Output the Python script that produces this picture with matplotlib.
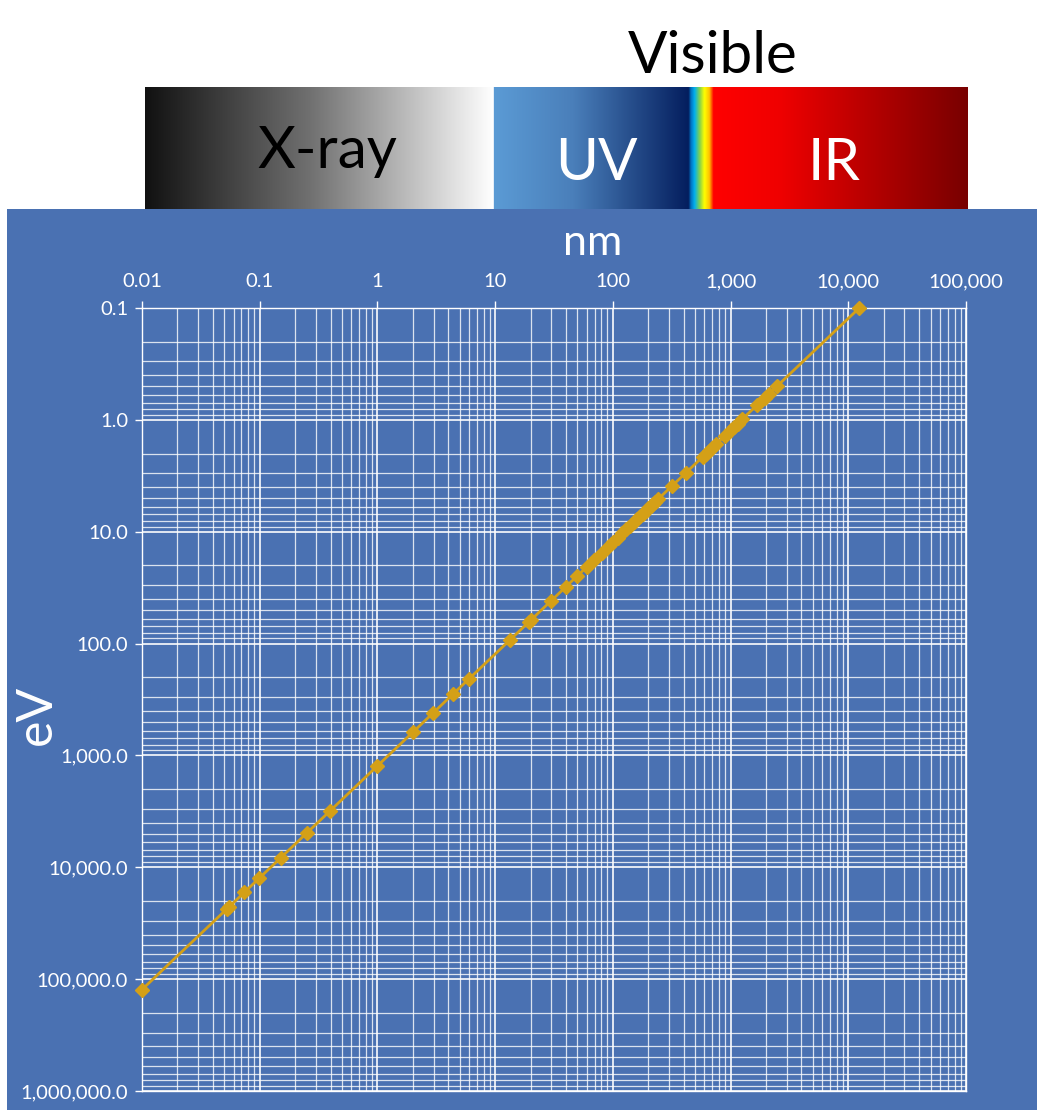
##  Wavelength (nm) vs photon energy (eV) with spectrum bar

import numpy as np
import matplotlib.pyplot as plt
from matplotlib.colors import LinearSegmentedColormap
from matplotlib.ticker import LogLocator, FixedLocator, NullFormatter
from matplotlib.patches import Rectangle

plt.rcParams['font.family'] = ['Lato', 'DejaVu Sans']

# wavelength in nm and photon energy in eV
nm = [0.01, 0.0525, 0.0552, 0.074, 0.0993, 0.151, 0.25, 0.395, 1.0,
      2.02, 2.98, 4.36, 6.04, 13.4, 19.5, 20.2, 29.7, 40, 49.3, 60, 69.6, 80.5,
      92, 100, 110, 120, 130, 140, 150, 160, 170, 180, 190, 200, 210, 220, 230, 244,
      316, 419, 580, 620, 660, 700, 750, 898, 1000, 1064, 1150, 1250,
      1670, 1960, 2100, 2470, 12398]
ev = [123984, 23616, 22461, 16755, 12486, 8211, 4959, 3139, 1239.8,
      613.8, 416.1, 284.4, 205.3, 92.5, 63.6, 61.4, 41.7, 31.0, 25.1, 20.7, 17.8, 15.4,
      13.5, 12.4, 11.27, 10.33, 9.54, 8.86, 8.27, 7.75, 7.29, 6.89, 6.53, 6.20, 5.90, 5.64, 5.39, 5.08,
      3.92, 2.96, 2.14, 2.00, 1.88, 1.77, 1.65, 1.38, 1.24, 1.165, 1.078, 0.992,
      0.742, 0.633, 0.590, 0.502, 0.100]

x_ticks = [0.01, 0.1, 1, 10, 100, 1000, 10000, 100000]
x_labels = ['0.01', '0.1', '1', '10', '100', '1,000', '10,000', '100,000']
y_ticks = [0.1, 1, 10, 100, 1000, 10000, 100000, 1000000]
y_labels = ['0.1', '1.0', '10.0', '100.0', '1,000.0', '10,000.0', '100,000.0', '1,000,000.0']

band_names = ['X-ray', 'UV', 'IR']

blue = '#4a71b2'
gold = '#d4a017'
W, H = 1037, 1110


def plot():
    fig = plt.figure(figsize=(W / 100, H / 100), dpi=100)
    fig.patches.append(Rectangle((7 / W, 0), 1 - 7 / W, 1 - 209 / H,
                                 transform=fig.transFigure, facecolor=blue,
                                 edgecolor='none', zorder=-10))

    # spectrum bar
    stops = [(0.0, '#111111'), (0.20, '#707070'), (0.4233, '#ffffff'),
             (0.4240, '#5b9bd5'), (0.52, '#4a7fba'), (0.6606, '#041e5e'),
             (0.6635, '#0070c0'), (0.6680, '#00b0f0'), (0.6740, '#7fd050'),
             (0.6800, '#ffff00'), (0.6860, '#ffc000'), (0.6910, '#ff0000'),
             (0.77, '#f00000'), (1.0, '#780000')]
    cmap = LinearSegmentedColormap.from_list('spec', stops, N=1024)
    bar = fig.add_axes([145 / W, 1 - 209 / H, 822 / W, 122 / H])
    bar.imshow(np.linspace(0, 1, 1024)[None, :], aspect='auto', cmap=cmap,
               extent=[0, 1, 0, 1])
    bar.set_axis_off()

    fig.text(713 / W, 1 - 73 / H, 'Visible', fontsize=42, color='black',
             ha='center', va='baseline')
    fig.text(327 / W, 1 - 168 / H, band_names[0], fontsize=42, color='black',
             ha='center', va='baseline')
    fig.text(596 / W, 1 - 180 / H, band_names[1], fontsize=42, color='white',
             ha='center', va='baseline')
    fig.text(834 / W, 1 - 180 / H, band_names[2], fontsize=42, color='white',
             ha='center', va='baseline')

    # main chart
    axes = fig.add_axes([142 / W, 1 - 1091 / H, 824 / W, 783 / H])
    axes.set_facecolor(blue)
    axes.set_xscale('log')
    axes.set_yscale('log')
    axes.set_xlim(0.01, 100000)
    axes.set_ylim(1000000, 0.1)

    axes.xaxis.set_major_locator(FixedLocator(x_ticks))
    axes.yaxis.set_major_locator(FixedLocator(y_ticks))
    axes.set_xticklabels(x_labels)
    axes.set_yticklabels(y_labels)
    axes.xaxis.set_minor_locator(LogLocator(base=10, subs=np.arange(2, 10), numticks=20))
    axes.yaxis.set_minor_locator(LogLocator(base=10, subs=np.arange(2, 10), numticks=20))
    axes.xaxis.set_minor_formatter(NullFormatter())
    axes.yaxis.set_minor_formatter(NullFormatter())
    axes.xaxis.tick_top()
    axes.tick_params(axis='both', which='major', colors='white', labelcolor='white',
                     length=5, width=1, labelsize=14.5)
    axes.tick_params(axis='x', which='major', pad=8)
    axes.tick_params(axis='y', which='major', pad=5)
    axes.tick_params(axis='both', which='minor', length=0)
    axes.grid(True, which='major', color='white', linewidth=1.3, alpha=0.9)
    axes.grid(True, which='minor', color='white', linewidth=0.9, alpha=0.8)
    for s in axes.spines.values():
        s.set_color('white')
        s.set_linewidth(1)

    axes.plot(nm, ev, color=gold, linewidth=2, marker='D', markersize=7,
              markeredgecolor=gold, zorder=5, clip_on=False)

    fig.text(593 / W, 1 - 243 / H, 'nm', fontsize=31, color='white',
             ha='center', va='center')
    fig.text(37 / W, 1 - 715 / H, 'eV', fontsize=36, color='white',
             ha='center', va='center', rotation=90)

    plt.savefig('out.png', dpi=100)


if __name__ == '__main__':
    plot()
